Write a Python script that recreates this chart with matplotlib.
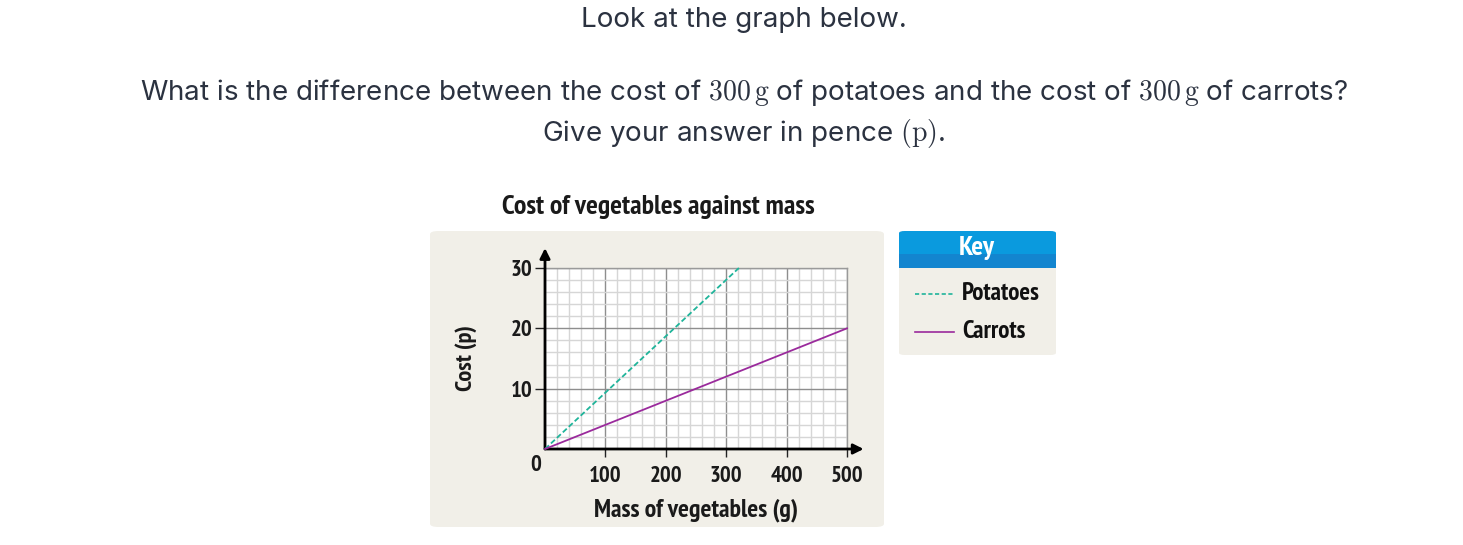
import matplotlib
matplotlib.use("Agg")
import matplotlib.pyplot as plt
from matplotlib.patches import FancyBboxPatch, Rectangle
from matplotlib.ticker import MultipleLocator

# ---- data ----
potato_mass = [0, 321]
potato_cost = [0, 30]
carrot_mass = [0, 500]
carrot_cost = [0, 20]
x_ticks = [100, 200, 300, 400, 500]
y_ticks = [10, 20, 30]
series_names = ["Potatoes", "Carrots"]

COND = ['PT Sans Narrow', 'Fira Sans Condensed', 'Roboto Condensed', 'Asap Condensed',
        'Archivo Narrow', 'DejaVu Sans']
TXT = ['Inter', 'DejaVu Sans']
plt.rcParams['mathtext.fontset'] = 'cm'

fig = plt.figure(figsize=(14.63, 5.45), dpi=100)
fig.patch.set_facecolor('white')
W, H = 1463, 545


def fx(px):
    return px / W


def fy(py):
    return 1 - py / H


# question text
qcol = '#2b3240'
QS = 20
fig.text(fx(744), fy(20), "Look at the graph below.", ha='center', va='center',
         fontsize=QS, color=qcol, family=TXT)
fig.text(fx(744), fy(92),
         r"What is the difference between the cost of $300\,\mathrm{g}$ of potatoes and the cost of $300\,\mathrm{g}$ of carrots?",
         ha='center', va='center', fontsize=QS, color=qcol, family=TXT)
fig.text(fx(744), fy(134), r"Give your answer in pence $(\mathrm{p})$.", ha='center', va='center',
         fontsize=QS, color=qcol, family=TXT)

# panel background
panel = FancyBboxPatch((fx(430), fy(527)), fx(454), (527 - 231) / H,
                       boxstyle="round,pad=0,rounding_size=0.006",
                       transform=fig.transFigure, facecolor='#f1efe8',
                       edgecolor='none', zorder=-5)
fig.patches.append(panel)

# title
fig.text(fx(658), fy(207), "Cost of vegetables against mass", ha='center', va='center',
         fontsize=20, fontweight='bold', color='#1a1a1a', family=COND)

# legend box
lg = FancyBboxPatch((fx(899), fy(355)), fx(157), (355 - 231) / H,
                    boxstyle="round,pad=0,rounding_size=0.004",
                    transform=fig.transFigure, facecolor='#f1efe8',
                    edgecolor='none', zorder=-5)
fig.patches.append(lg)
hdr = FancyBboxPatch((fx(899), fy(268)), fx(157), (268 - 231) / H,
                     boxstyle="round,pad=0,rounding_size=0.004",
                     transform=fig.transFigure, facecolor='#0a9ade',
                     edgecolor='none', zorder=-4)
fig.patches.append(hdr)
fig.patches.append(Rectangle((fx(899), fy(268)), fx(157), 14 / H, transform=fig.transFigure,
                             facecolor='#1385cf', edgecolor='none', zorder=-4))
fig.text(fx(977), fy(248), "Key", ha='center', va='center', fontsize=20,
         fontweight='bold', color='white', family=COND, zorder=3)

pot_color = '#1fb49a'
car_color = '#9a2a9c'
fig.lines.append(plt.Line2D([fx(915), fx(954)], [fy(294), fy(294)], transform=fig.transFigure,
                            color=pot_color, lw=1.2, ls=(0, (2.5, 1.5))))
fig.lines.append(plt.Line2D([fx(915), fx(954)], [fy(332), fy(332)], transform=fig.transFigure,
                            color=car_color, lw=1.2))
fig.text(fx(962), fy(293), series_names[0], ha='left', va='center', fontsize=18,
         fontweight='bold', color='#111111', family=COND)
fig.text(fx(962), fy(331), series_names[1], ha='left', va='center', fontsize=18,
         fontweight='bold', color='#111111', family=COND)

# axes
ax = fig.add_axes([fx(545), fy(449), fx(847 - 545), (449 - 268) / H], zorder=2)
ax.set_facecolor('white')
ax.set_xlim(0, 500)
ax.set_ylim(0, 30)
ax.xaxis.set_minor_locator(MultipleLocator(20))
ax.yaxis.set_minor_locator(MultipleLocator(2))
ax.set_xticks(x_ticks)
ax.set_yticks(y_ticks)
ax.set_xticklabels([str(v) for v in x_ticks])
ax.set_yticklabels([str(v) for v in y_ticks])
ax.grid(which='minor', color='#d6d6d6', lw=1.0, zorder=0)
ax.grid(which='major', color='#8e8e8e', lw=1.0, zorder=0.5)
ax.set_axisbelow(True)
for s in ['top', 'right']:
    ax.spines[s].set_color('#9a9a9a')
    ax.spines[s].set_linewidth(1.0)
for s in ['left', 'bottom']:
    ax.spines[s].set_visible(False)

ax.tick_params(axis='x', which='major', direction='out', length=6, width=1, color='#222222',
               pad=6, labelsize=16.5)
ax.tick_params(axis='y', which='major', direction='out', length=7, width=1, color='#222222',
               pad=2, labelsize=16.5)
ax.tick_params(which='minor', length=0)
for lab in ax.get_xticklabels() + ax.get_yticklabels():
    lab.set_fontweight('bold')
    lab.set_family(COND)
    lab.set_color('#1a1a1a')

ax.text(-0.03, -0.09, "0", transform=ax.transAxes, ha='center', va='center',
        fontsize=16.5, fontweight='bold', family=COND, color='#1a1a1a')

# axes with arrows
ax.annotate('', xy=(0, 1.11), xytext=(0, 0), xycoords='axes fraction',
            arrowprops=dict(arrowstyle='-|>,head_length=0.6,head_width=0.3', color='black',
                            lw=2, shrinkA=0, shrinkB=0), annotation_clip=False)
ax.annotate('', xy=(1.055, 0), xytext=(0, 0), xycoords='axes fraction',
            arrowprops=dict(arrowstyle='-|>,head_length=0.6,head_width=0.3', color='black',
                            lw=2, shrinkA=0, shrinkB=0), annotation_clip=False)

ax.plot(potato_mass, potato_cost, color=pot_color, lw=1.3, ls=(0, (3, 1.5)), zorder=3,
        clip_on=False)
ax.plot(carrot_mass, carrot_cost, color=car_color, lw=1.3, zorder=3, clip_on=False)

fig.text(fx(696), fy(510), "Mass of vegetables (g)", ha='center', va='center',
         fontsize=18.5, fontweight='bold', color='#1a1a1a', family=COND)
fig.text(fx(466), fy(358), "Cost (p)", ha='center', va='center', rotation=90,
         fontsize=17.5, fontweight='bold', color='#1a1a1a', family=COND)

fig.savefig('out.png', dpi=100, facecolor='white')
